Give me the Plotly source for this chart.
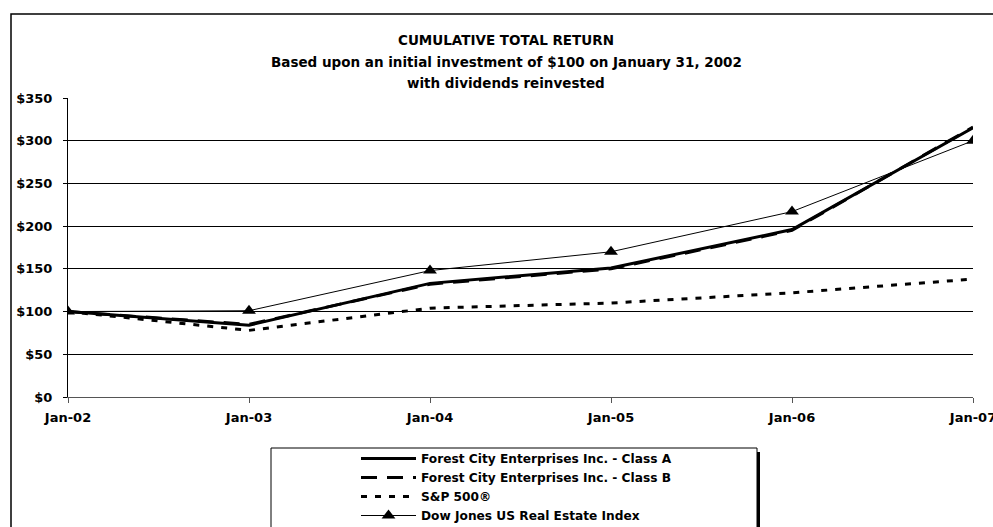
import plotly.graph_objects as go

dates = ["Jan-02", "Jan-03", "Jan-04", "Jan-05", "Jan-06", "Jan-07"]
class_a = [100, 84, 133, 151, 196, 315]
class_b = [100, 85, 132, 150, 195, 316]
sp500 = [100, 78, 104, 110, 122, 138]
dj_re = [100, 101, 148, 170, 217, 300]

FONT = "DejaVu Sans, Liberation Sans, Arial, sans-serif"

# pixel -> paper helpers (plot area: x 68..973, y 98..397)
L, R, T, B = 68, 973, 98, 397
def px(x):
    return (x - L) / (R - L)
def py(y):
    return (B - y) / (B - T)

fig = go.Figure()
fig.add_trace(go.Scatter(x=dates, y=class_a, mode="lines", name="Forest City Enterprises Inc. - Class A",
                         line=dict(color="black", width=3)))
fig.add_trace(go.Scatter(x=dates, y=class_b, mode="lines", name="Forest City Enterprises Inc. - Class B",
                         line=dict(color="black", width=3, dash="16px,10px")))
fig.add_trace(go.Scatter(x=dates, y=sp500, mode="lines", name="S&P 500®",
                         line=dict(color="black", width=3, dash="6px,8px")))
fig.add_trace(go.Scatter(x=dates, y=dj_re, mode="lines+markers", name="Dow Jones US Real Estate Index",
                         line=dict(color="black", width=1),
                         marker=dict(symbol="triangle-up", size=12, color="black")))

shapes = [
    # outer frame
    dict(type="rect", xref="paper", yref="paper", x0=px(11), x1=px(1010), y0=py(560), y1=py(14),
         line=dict(color="black", width=1.5), layer="below"),
    # legend shadow
    dict(type="rect", xref="paper", yref="paper", x0=px(757), x1=px(760), y0=py(560), y1=py(452),
         line=dict(width=0), fillcolor="black"),
    # legend box
    dict(type="rect", xref="paper", yref="paper", x0=px(271), x1=px(757), y0=py(560), y1=py(448),
         line=dict(color="black", width=1)),
]

annotations = []
for txt, yy in [("CUMULATIVE TOTAL RETURN", 40),
                ("Based upon an initial investment of $100 on January 31, 2002", 62),
                ("with dividends reinvested", 83)]:
    annotations.append(dict(text="<b>" + txt + "</b>", xref="paper", yref="paper",
                            x=px(506), y=py(yy), xanchor="center", yanchor="middle",
                            showarrow=False, font=dict(family=FONT, size=13.5, color="black")))

fig.update_layout(
    width=993, height=527,
    margin=dict(l=L, r=993 - R, t=T, b=527 - B, autoexpand=False),
    paper_bgcolor="white", plot_bgcolor="white",
    font=dict(family=FONT, size=13, color="black"),
    shapes=shapes,
    annotations=annotations,
    showlegend=True,
    legend=dict(x=px(356), y=py(444), xanchor="left", yanchor="top",
                bgcolor="rgba(0,0,0,0)", borderwidth=0,
                font=dict(family=FONT, size=12.2, color="black", weight="bold"),
                itemwidth=55, tracegroupgap=0),
    xaxis=dict(type="category", range=[0, 5], showgrid=False, zeroline=False,
               showline=True, linecolor="#555", linewidth=1,
               ticks="outside", ticklen=5, tickcolor="#555",
               tickfont=dict(family=FONT, size=13, color="black", weight="bold"),
               ticklabelstandoff=3, fixedrange=True),
    yaxis=dict(range=[0, 350], dtick=50, tickprefix="$", showgrid=True, gridcolor="black",
               gridwidth=1, zeroline=False, showline=True, linecolor="black", linewidth=1,
               ticks="outside", ticklen=4, tickcolor="black",
               tickfont=dict(family=FONT, size=13, color="black", weight="bold"),
               ticklabelstandoff=8, fixedrange=True),
)

fig.write_html("out.html", config={"displayModeBar": False},
               post_script="document.body.style.margin='0';")
